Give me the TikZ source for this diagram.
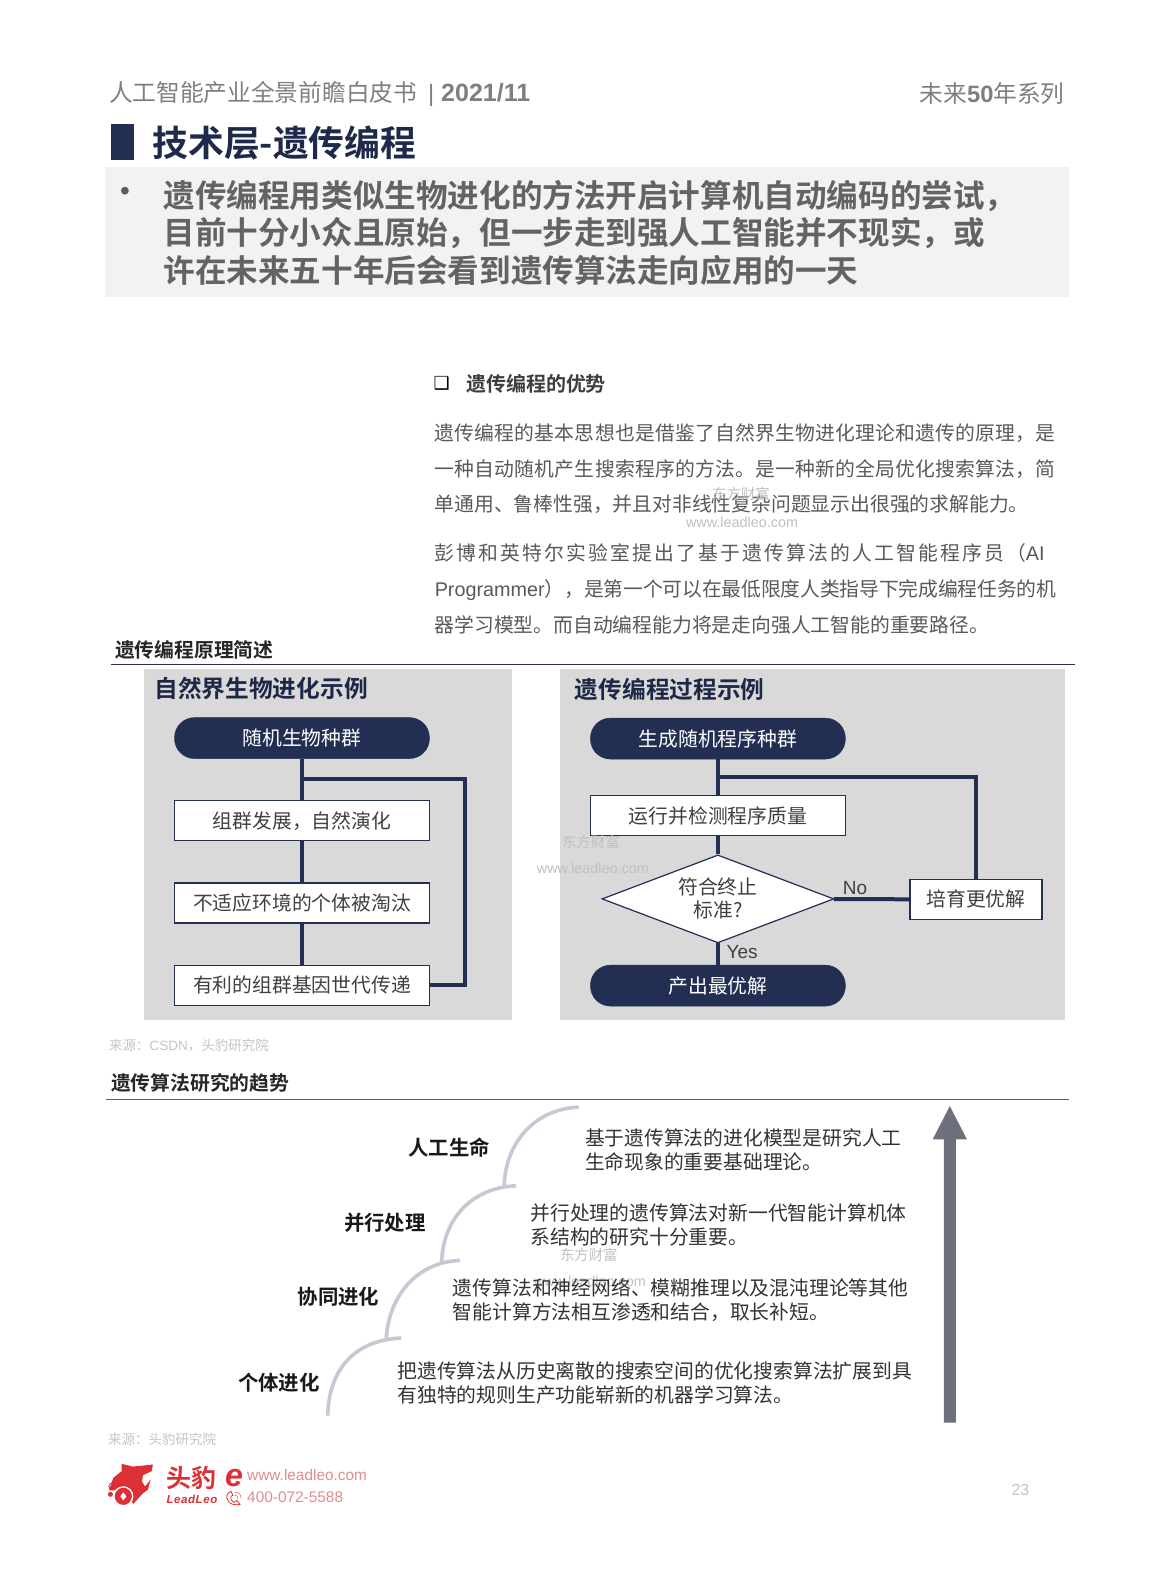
\documentclass[tikz,border=0pt]{standalone}
\usepackage{xcolor}
\usepackage{fontspec}
\usetikzlibrary{shapes.geometric}
\setmainfont{Noto Sans CJK SC}[BoldFont={Noto Sans CJK SC Bold}]
\newfontfamily\latinfont{Liberation Sans}
\newfontfamily\symbfont{DejaVu Sans}
\definecolor{navy}{HTML}{222F52}
\definecolor{headgray}{HTML}{7F7F7F}
\definecolor{bodygray}{HTML}{595959}
\definecolor{sumgray}{HTML}{636363}
\definecolor{srcgray}{HTML}{C4C4C4}
\definecolor{markgray}{HTML}{C0C0C0}
\definecolor{panelgray}{HTML}{D9D9D9}
\definecolor{stepgray}{HTML}{C6C9D3}
\definecolor{arrowgray}{HTML}{6C707C}
\definecolor{logored}{HTML}{DC2F36}
\definecolor{linkred}{HTML}{E28C8C}
\newcommand{\fs}[1]{\fontsize{#1}{#1}\selectfont}
\newcommand{\spread}[2]{{\addfontfeature{LetterSpace=#1}#2}}
\tikzset{
        txt/.style={inner sep=0pt,anchor=west,align=left},
        pill/.style={draw=navy,fill=navy,rounded corners=20pt,minimum width=255pt,minimum height=41pt,inner sep=0pt,text=white,font=\fs{19.8}},
        stepbox/.style={draw=navy,line width=1.2pt,fill=white,minimum width=255pt,minimum height=40pt,inner sep=0pt,text=black!75,font=\fs{19.8}},
        flow/.style={draw=navy,line width=4pt},
        heading/.style={txt,font=\bfseries\fs{19.8},text=black!85},
        paneltitle/.style={txt,font=\bfseries\fs{23.7},text=navy!85!black},
        stair/.style={draw=stepgray,line width=3.6pt},
        stage/.style={txt,font=\bfseries\fs{20.4},text=black!90},
        trend/.style={txt,font=\fontsize{19.8}{24}\selectfont,text=black!80},
        para/.style={txt,font=\fontsize{19.8}{35.6}\selectfont,text=bodygray},
        source/.style={txt,font=\fs{13.5},text=srcgray},
        wmark/.style={inner sep=0pt,font=\fs{14.4},text=markgray},
        wlink/.style={inner sep=0pt,font=\latinfont\fs{14.4},text=markgray},
}
\begin{document}
\begin{tikzpicture}[x=1.0086pt,y=-1.0086pt]
        \useasboundingbox (0,0) rectangle (1160,1568);
        \fill[white] (0,0) rectangle (1160,1568);
        \node[txt,font=\fs{23.7},text=headgray] (header) at (108,93) {人工智能产业全景前瞻白皮书\hspace{11pt}{\latinfont |\hspace{7pt}\bfseries\fontsize{25}{25}\selectfont 2021/11}};
        \node[txt,anchor=east,font=\fs{23.7},text=headgray] (series) at (1056,93) {未来{\latinfont\bfseries 50}年系列};
        \fill[navy] (110,123) rectangle (133,159);
        \node[txt,font=\bfseries\fs{35.8},text=navy!90!black] (title) at (151,142) {技术层-遗传编程};
        \fill[black!5] (104,166) rectangle (1060,295);
        \node[inner sep=0pt,font=\latinfont\fs{28},text=bodygray] (dot) at (124,192) {•};
        \node[txt,font=\bfseries\fontsize{31.6}{37.3}\selectfont,text=sumgray] (summary) at (162,231) {遗传编程用类似生物进化的方法开启计算机自动编码的尝试，\\目前十分小众且原始，但一步走到强人工智能并不现实，或\\许在未来五十年后会看到遗传算法走向应用的一天};

        \node[inner sep=0pt,font=\symbfont\fs{18},text=black] (tick) at (438,380) {❑};
        \node[txt,font=\bfseries\fs{20},text=bodygray!70!black] (advtitle) at (462,381) {遗传编程的优势};
        \node[para] (paraA) at (431,465) {\spread{1.2}{遗传编程的基本思想也是借鉴了自然界生物进化理论和遗传的原理，是}\\\spread{1.2}{一种自动随机产生搜索程序的方法。是一种新的全局优化搜索算法，简}\\单通用、鲁棒性强，并且对非线性复杂问题显示出很强的求解能力。};
        \node[para] (paraB) at (431,584) {\spread{11}{彭博和英特尔实验室提出了基于遗传算法的人工智能程序员（}{\latinfont AI}\\{\latinfont Programmer}\spread{-0.6}{），是第一个可以在最低限度人类指导下完成编程任务的机}\\器学习模型。而自动编程能力将是走向强人工智能的重要路径。};
        \node[wmark] (markA) at (735,490) {东方财富};
        \node[wlink] (linkA) at (736,518) {www.leadleo.com};

        \node[heading] (principle) at (114,645) {遗传编程原理简述};
        \draw[navy,thick] (110,659) -- (1066,659);

        \fill[panelgray] (143,663) rectangle (508,1012);
        \fill[panelgray] (555,663) rectangle (1056,1012);
        \node[paneltitle] (natural) at (153,683) {自然界生物进化示例};
        \node[paneltitle] (process) at (570,684) {遗传编程过程示例};

        \node[pill] (popA) at (299.5,732) {随机生物种群};
        \node[stepbox] (growA) at (299.5,814) {组群发展，自然演化};
        \node[stepbox] (dropA) at (299.5,895.5) {不适应环境的个体被淘汰};
        \node[stepbox] (passA) at (299.5,977) {有利的组群基因世代传递};
        \coordinate (joinA) at (299.5,773);
        \coordinate (loopA) at (461,773);
        \draw[flow] (popA) -- (growA);
        \draw[flow] (growA) -- (dropA);
        \draw[flow] (dropA) -- (passA);
        \draw[flow] (passA.east) -| (loopA) -- (joinA);

        \node[pill] (popB) at (712,732.5) {生成随机程序种群};
        \node[stepbox] (runB) at (712,809) {运行并检测程序质量};
        \node[diamond,draw=navy,line width=1.2pt,fill=white,aspect=2.6,minimum width=232pt,minimum height=88pt,inner sep=0pt,text=black!75,align=center,font=\fontsize{19.8}{23}\selectfont] (stopB) at (712,891.5) {符合终止\\标准?};
        \node[pill] (bestB) at (712,977.5) {产出最优解};
        \node[stepbox,minimum width=132pt] (breedB) at (968,892) {培育更优解};
        \coordinate (joinB) at (712,771);
        \draw[flow] (popB) -- (runB);
        \draw[flow] (runB) -- (stopB);
        \draw[flow] (stopB) -- (bestB);
        \draw[flow] (stopB) -- (breedB);
        \draw[flow] (breedB.north) |- (joinB);
        \node[inner sep=0pt,font=\latinfont\fs{19},text=black!75] (noB) at (848,881) {No};
        \node[inner sep=0pt,font=\latinfont\fs{19},text=black!75] (yesB) at (736,944) {Yes};
        \node[wmark] (markB) at (586,835) {东方财富};
        \node[wlink] (linkB) at (588,861) {www.leadleo.com};

        \node[source] (srcA) at (108,1037) {来源：{\latinfont CSDN}，头豹研究院};
        \node[heading] (outlook) at (110,1074) {遗传算法研究的趋势};
        \draw[navy!75,thick] (105,1090) -- (1060,1090);

        \coordinate (stairA) at (325,1404);
        \coordinate (stairB) at (398,1327);
        \coordinate (stairC) at (383,1330);
        \coordinate (stairD) at (456,1250);
        \coordinate (stairE) at (438,1252);
        \coordinate (stairF) at (512,1176);
        \coordinate (stairG) at (500,1176);
        \coordinate (stairH) at (574,1098);
        \draw[stair] (stairA) .. controls (326,1360) and (350,1329) .. (stairB);
        \draw[stair] (stairC) .. controls (384,1290) and (410,1252) .. (stairD);
        \draw[stair] (stairE) .. controls (439,1212) and (465,1178) .. (stairF);
        \draw[stair] (stairG) .. controls (501,1136) and (528,1100) .. (stairH);

        \node[stage] (life) at (405,1138) {人工生命};
        \node[stage] (parallel) at (341,1213) {并行处理};
        \node[stage] (coevo) at (295,1286) {协同进化};
        \node[stage] (indiv) at (236,1371) {个体进化};
        \node[wmark] (markC) at (584,1245) {东方财富};
        \node[wlink] (linkC) at (585,1271) {www.leadleo.com};
        \node[trend] (lifetxt) at (580,1140) {基于遗传算法的进化模型是研究人工\\生命现象的重要基础理论。};
        \node[trend] (paralleltxt) at (526,1215) {并行处理的遗传算法对新一代智能计算机体\\系结构的研究十分重要。};
        \node[trend] (coevotxt) at (449,1289) {遗传算法和神经网络、模糊推理以及混沌理论等其他\\智能计算方法相互渗透和结合，取长补短。};
        \node[trend] (indivtxt) at (394,1372) {把遗传算法从历史离散的搜索空间的优化搜索算法扩展到具\\有独特的规则生产功能崭新的机器学习算法。};
        \fill[arrowgray] (936,1411) -- (936,1130) -- (925,1130) -- (942,1097) -- (959,1130) -- (948,1130) -- (948,1411) -- cycle;

        \node[source] (srcB) at (107,1427) {来源：头豹研究院};

        \fill[logored] (120.7,1451.8) -- (131.9,1454.5) -- (151.7,1452.5) -- (150.4,1459.1) -- (141.8,1463) -- (140.8,1469.3) -- (143.8,1474.3) -- (149.4,1467.4) -- (146.7,1477.4) -- (141.5,1481.3) -- (132.2,1491.5) -- (122,1478) -- (108,1478) -- (112.4,1465.7) -- (120.7,1459) -- cycle;
        \fill[white] (122.3,1484) circle[radius=10];
        \fill[logored] (122.3,1484) circle[radius=8.5];
        \fill[white] (122.3,1480) -- (125.3,1484) -- (122.3,1488) -- (119.3,1484) -- cycle;
        \draw[logored,thick] (111.5,1474) circle[radius=3.5];
        \fill[logored] (109.5,1482) circle[radius=2.5];
        \node[txt,font=\bfseries\fs{25},text=logored] (brand) at (165,1466) {头豹};
        \node[txt,font=\latinfont\bfseries\itshape\fs{11.5},text=logored] (brandlat) at (165,1487) {\spread{5}{LeadLeo}};
        \node[inner sep=0pt,font=\latinfont\bfseries\itshape\fs{32},text=logored] (emark) at (232,1466) {e};
        \draw[logored,thick,line cap=round] (226,1481) .. controls (222,1488) and (229,1494) .. (238,1492) -- (235,1488) -- (232,1490) .. controls (229,1488) and (228,1486) .. (229,1484) -- (231,1483) -- (229,1479) -- cycle;
        \draw[logored,line cap=round] (233,1483) .. controls (235,1483) and (236,1484) .. (236,1486);
        \draw[logored,line cap=round] (233,1480) .. controls (237,1480) and (239,1482) .. (239,1486);
        \node[txt,font=\latinfont\fs{15.4},text=linkred] (site) at (245,1463) {www.leadleo.com};
        \node[txt,font=\latinfont\fs{15.4},text=linkred] (phone) at (245,1485) {400-072-5588};
        \node[inner sep=0pt,font=\latinfont\fs{16},text=srcgray] (pageno) at (1012,1478) {23};
\end{tikzpicture}
\end{document}
